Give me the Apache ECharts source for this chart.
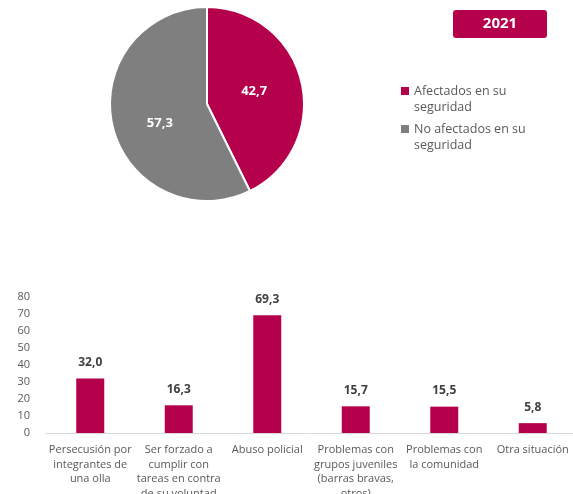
<!DOCTYPE html>
<html><head><meta charset="utf-8">
<script src="https://cdn.jsdelivr.net/npm/echarts@6/dist/echarts.min.js"></script>
<style>html,body{margin:0;padding:0;background:#fff}#c{width:573px;height:494px}</style>
</head><body><div id="c"></div>
<script>
const pieNames = ['Afectados en su\nseguridad', 'No afectados en su\nseguridad'];
const pieValues = [42.7, 57.3];
const barCategories = ['Persecusión por\nintegrantes de\nuna olla', 'Ser forzado a\ncumplir con\ntareas en contra\nde su voluntad', 'Abuso policial', 'Problemas con\ngrupos juveniles\n(barras bravas,\notros)', 'Problemas con\nla comunidad', 'Otra situación'];
const barValues = [32.0, 16.3, 69.3, 15.7, 15.5, 5.8];
const yTicks = {min: 0, max: 80, interval: 10};
const yearLabel = '2021';

const RED = '#B5014B', GRAY = '#7F7F7F', TXT = '#595959';
const FONT = 'Open Sans';
const fmt = v => v.toFixed(1).replace('.', ',');
const pieStyles = [{color: RED, offset: [-3, -1]}, {color: GRAY, offset: [3, 8]}];

const chart = echarts.init(document.getElementById('c'));
chart.setOption({
  animation: false,
  textStyle: {fontFamily: FONT},
  graphic: [
    {type: 'rect', shape: {x: 453, y: 10, width: 94, height: 28, r: 3}, style: {fill: RED}},
    {type: 'text', x: 500, y: 24, style: {text: yearLabel, fill: '#fff', font: 'bold 15px ' + FONT, textAlign: 'center', textVerticalAlign: 'middle'}}
  ],
  legend: {
    orient: 'vertical', left: 396, top: 78, itemWidth: 8, itemHeight: 24, itemGap: 6,
    icon: 'path://M0,0h8v8h-8zM0,24h8v0h-8z',
    itemStyle: {borderWidth: 0},
    data: pieNames.map((n, i) => ({name: n, itemStyle: {color: pieStyles[i].color, borderWidth: 0}})),
    textStyle: {color: TXT, fontSize: 12.5, lineHeight: 16, fontFamily: FONT}
  },
  grid: {left: 46, right: -4, top: 297, bottom: 61, containLabel: false, outerBoundsMode: 'none'},
  xAxis: {
    type: 'category', data: barCategories,
    axisLine: {lineStyle: {color: '#D9D9D9'}}, axisTick: {show: false},
    axisLabel: {color: TXT, fontSize: 11, lineHeight: 14.5, interval: 0, margin: 10, fontFamily: FONT}
  },
  yAxis: {
    type: 'value', min: yTicks.min, max: yTicks.max, interval: yTicks.interval,
    splitLine: {show: false}, axisLine: {show: false}, axisTick: {show: false},
    axisLabel: {color: TXT, fontSize: 11, margin: 16, fontFamily: FONT}
  },
  series: [
    {
      type: 'pie', center: [207, 104], radius: 97, startAngle: 90, clockwise: true,
      data: pieNames.map((n, i) => ({name: n, value: pieValues[i], itemStyle: {color: pieStyles[i].color}, label: {offset: pieStyles[i].offset}})),
      itemStyle: {borderColor: '#fff', borderWidth: 2},
      label: {position: 'inside', formatter: p => fmt(p.value), color: '#fff', fontWeight: 'bold', fontSize: 13, fontFamily: FONT},
      labelLine: {show: false}
    },
    {
      type: 'bar', data: barValues, barWidth: 28, itemStyle: {color: RED},
      label: {show: true, position: 'top', distance: 10, formatter: p => fmt(p.value), color: '#404040', fontWeight: 'bold', fontSize: 12, fontFamily: FONT}
    }
  ]
});
</script></body></html>
